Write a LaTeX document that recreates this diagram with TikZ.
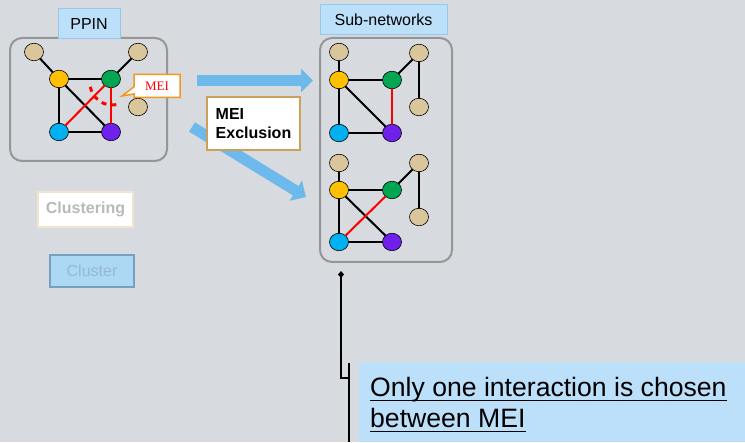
\documentclass[tikz,border=0pt]{standalone}
\usepackage{fontspec}
\setmainfont{Liberation Sans}
\newfontfamily\meifont{Liberation Serif}
\usetikzlibrary{shapes.geometric,shapes.callouts,arrows.meta}

\begin{document}
\begin{tikzpicture}
			[x=1pt,y=-1pt,line cap=round,
			%Styles
			panel/.style={draw=panelgray,line width=2pt,rounded corners=12pt},
			title box/.style={draw=titleedge,fill=titleblue,line width=1pt,minimum height=30pt,font=\fontsize{16}{19}\selectfont},
			prot/.style={ellipse,draw=black,line width=0.6pt,minimum width=19pt,minimum height=17.5pt,inner sep=0pt,fill=#1},
			link/.style={line width=2pt},
			mei link/.style={line width=2pt,red},
			mei arc/.style={red,line width=3pt,line cap=butt,dash pattern=on 5pt off 5pt},
			big arrow/.style={line width=11pt,draw=arrowblue,line cap=butt,-{Triangle[length=12pt,width=23pt]}},
			step text/.style={draw=stepedge,fill=white,line width=1.5pt,minimum width=93pt,minimum height=53pt,align=left,font=\fontsize{16}{19}\selectfont\bfseries},
			note line/.style={anchor=base west,inner sep=0pt,font=\fontsize{26.6}{32}\selectfont},
			under/.style={line width=1.6pt,line cap=butt},
			callout line/.style={line width=1.2pt,{Diamond[length=7pt,width=6pt]}-}
			]
			
			%Colors
			\definecolor{bgcolor}{RGB}{215,218,222}
			\definecolor{panelgray}{RGB}{150,150,152}
			\definecolor{titleblue}{RGB}{189,224,250}
			\definecolor{titleedge}{RGB}{150,200,235}
			\definecolor{tan}{RGB}{218,198,155}
			\definecolor{protyellow}{RGB}{255,192,0}
			\definecolor{protgreen}{RGB}{0,166,81}
			\definecolor{protblue}{RGB}{0,176,240}
			\definecolor{protpurple}{RGB}{112,32,235}
			\definecolor{arrowblue}{RGB}{110,185,235}
			\definecolor{stepedge}{RGB}{205,160,90}
			\definecolor{calloutorange}{RGB}{247,150,30}
			
			%Background
			\fill[bgcolor] (0,0) rectangle (745,442);
			
			%The graphic
			\draw[panel] (10,38) rectangle (167,161);
			\draw[panel] (320,38) rectangle (452,262);
			\node[title box,minimum width=62pt] (PPIN) at (89,24) {PPIN};
			\node[title box,minimum width=127pt] (SUB) at (383.5,20) {Sub-networks};
			
			% PPIN
			\node[prot=tan] (Ta) at (34,52) {};
			\node[prot=tan] (Tb) at (138,52) {};
			\node[prot=tan] (Tc) at (138,107) {};
			\node[prot=protyellow] (Y) at (59,79) {};
			\node[prot=protgreen] (G) at (111,79) {};
			\node[prot=protblue] (B) at (59,132) {};
			\node[prot=protpurple] (P) at (111,132) {};
			
			\path[link]
				(Ta) edge (Y)
				(Y) edge (G)
					edge (B)
					edge (P)
				(Tb) edge (G)
				(B) edge (P);
			\path[mei link]
				(G) edge (B)
					edge (P);
			\coordinate (arcC) at (112,83);
			\draw[mei arc] ([shift={(170:22)}]arcC) arc[start angle=170,end angle=75,radius=22];
			\node[rectangle callout,callout absolute pointer={(122,96)},draw=calloutorange,fill=white,line width=1.5pt,
				minimum width=46pt,minimum height=23pt,text=red,font=\meifont\fontsize{13}{15}\selectfont] (MEIc) at (157,86) {MEI};
			
			% sub-network 1
			\node[prot=tan] (Ta1) at (339,52) {};
			\node[prot=tan] (Tb1) at (419,53) {};
			\node[prot=tan] (Tc1) at (419,107) {};
			\node[prot=protyellow] (Y1) at (339,80) {};
			\node[prot=protgreen] (G1) at (392,80) {};
			\node[prot=protblue] (B1) at (339,133) {};
			\node[prot=protpurple] (P1) at (392,133) {};
			
			\path[link]
				(Ta1) edge (Y1)
				(Y1) edge (G1)
					edge (B1)
					edge (P1)
				(G1) edge (Tb1)
				(Tb1) edge (Tc1)
				(B1) edge (P1);
			\path[mei link] (G1) edge (P1);
			
			% sub-network 2
			\node[prot=tan] (Ta2) at (339,163) {};
			\node[prot=tan] (Tb2) at (419,163) {};
			\node[prot=tan] (Tc2) at (419,217) {};
			\node[prot=protyellow] (Y2) at (339,190) {};
			\node[prot=protgreen] (G2) at (392,190) {};
			\node[prot=protblue] (B2) at (339,242) {};
			\node[prot=protpurple] (P2) at (392,242) {};
			
			\path[link]
				(Ta2) edge (Y2)
				(Y2) edge (G2)
					edge (B2)
					edge (P2)
				(G2) edge (Tb2)
				(Tb2) edge (Tc2)
				(B2) edge (P2);
			\path[mei link] (G2) edge (B2);
			
			% arrows
			\coordinate (hS) at (197,80.5);
			\coordinate (hE) at (313,80.5);
			\coordinate (dS) at (192,127);
			\coordinate (dE) at (306,197);
			\draw[big arrow] (hS) -- (hE);
			\draw[big arrow] (dS) -- (dE);
			\node[step text] (EXCL) at (253.5,123.5) {MEI\\Exclusion};
			
			% faded steps
			\node[draw={rgb,255:red,240;green,228;blue,205},fill=white,line width=1.2pt,minimum width=95pt,minimum height=35pt,
				text={rgb,255:red,185;green,185;blue,188},font=\fontsize{16}{19}\selectfont\bfseries] (CLU) at (85.5,209.5) {Clustering};
			\node[draw={rgb,255:red,120;green,160;blue,190},fill={rgb,255:red,172;green,215;blue,245},line width=1.2pt,minimum width=84pt,minimum height=32pt,
				text={rgb,255:red,150;green,185;blue,210},font=\fontsize{16}{19}\selectfont] (CLS) at (92,271) {Cluster};
			
			% note
			\node[fill=titleblue,minimum width=386pt,minimum height=80pt] (NOTE) at (552,402) {};
			\node[note line] (L1) at (370,397) {Only one interaction is chosen};
			\node[note line] (L2) at (370,428) {between MEI};
			\draw[under] ([yshift=-3.5pt]L1.base west) -- ([yshift=-3.5pt]L1.base east);
			\draw[under] ([yshift=-3.5pt]L2.base west) -- ([yshift=-3.5pt]L2.base east);
			\coordinate (cA) at (341,271);
			\coordinate (cB) at (341,378);
			\coordinate (cC) at (349,378);
			\coordinate (cD) at (349,363);
			\coordinate (cE) at (349,442);
			\draw[callout line] (cA) -- (cB) -- (cC);
			\draw[line width=2pt,line cap=butt] (cD) -- (cE);
		\end{tikzpicture}
\end{document}
